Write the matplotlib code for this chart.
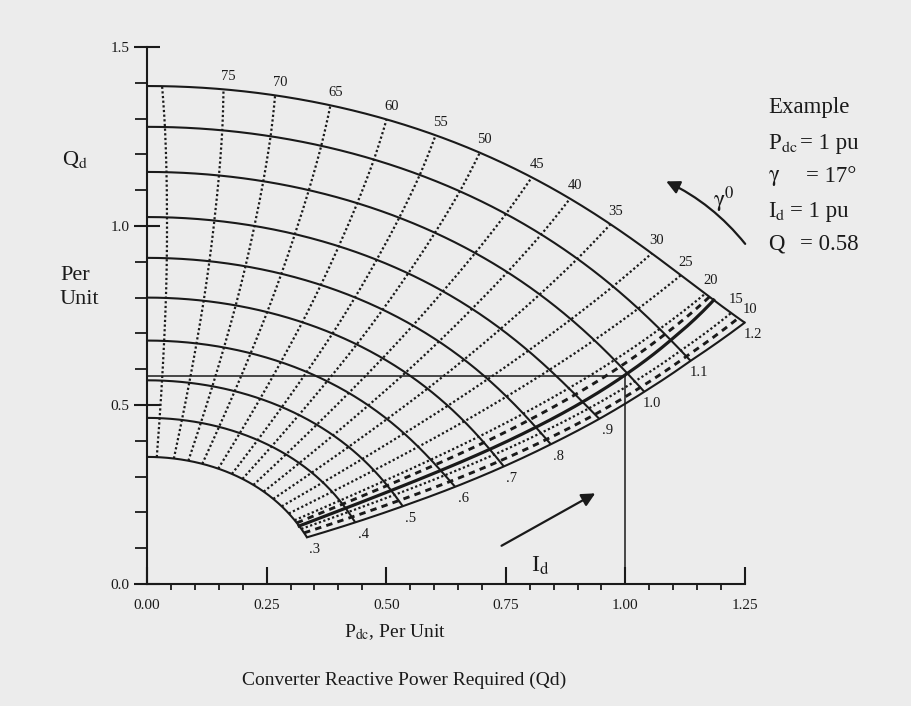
import numpy as np
import matplotlib.pyplot as plt
from matplotlib.patches import FancyArrowPatch

plt.rcParams['font.family'] = ['Liberation Serif', 'DejaVu Serif']
plt.rcParams['mathtext.fontset'] = 'stix'

# Id arcs (pu): radius where each arc meets the Qd axis, and radius at its gamma=10 end
id_vals = [0.3, 0.4, 0.5, 0.6, 0.7, 0.8, 0.9, 1.0, 1.1, 1.2]
id_labels = ['.3', '.4', '.5', '.6', '.7', '.8', '.9', '1.0', '1.1', '1.2']
r_axis = [0.355, 0.464, 0.569, 0.680, 0.800, 0.911, 1.025, 1.151, 1.277, 1.391]
r_end = [0.359, 0.468, 0.577, 0.699, 0.815, 0.930, 1.052, 1.170, 1.296, 1.447]

# gamma lines: polar angle (deg) where each one meets the Id=.3 arc and the Id=1.2 arc
gamma_vals = [80, 75, 70, 65, 60, 55, 50, 45, 40, 35, 30, 25, 20, 18.5, 17, 15, 12.5, 10]
gamma_labels = ['', '75', '70', '65', '60', '55', '50', '45', '40', '35', '30', '25',
                '20', '', '', '15', '', '10']
theta_in = [86.7, 80.9, 75.9, 71.0, 65.2, 60.0, 55.8, 51.2, 46.6, 42.0, 37.6, 33.6,
            30.0, 28.6, 27.0, 25.5, 23.5, 21.3]
theta_out = [88.7, 83.4, 78.9, 74.0, 68.9, 64.3, 60.0, 54.7, 50.6, 46.05, 41.2, 37.7,
             34.8, 34.3, 33.8, 31.8, 31.0, 30.3]
# how late each gamma line turns (curve shape between its two ends)
bend = [1.8, 1.8, 1.8, 1.8, 1.8, 1.8, 1.8, 1.8, 1.8, 1.8, 1.9, 2.0,
        2.4, 2.6, 2.8, 2.3, 2.0, 1.6]

# worked example
p_ex = 1.0
q_ex = 0.58

NB = len(gamma_vals) - 1  # lower boundary line (gamma = 10)


def line_angle(k, idv):
    s = (np.asarray(idv) - id_vals[0]) / (id_vals[-1] - id_vals[0])
    return theta_in[k] + (theta_out[k] - theta_in[k]) * s ** bend[k]


def radius(idv, th):
    r0 = np.interp(idv, id_vals, r_axis)
    r1 = np.interp(idv, id_vals, r_end)
    th_end = line_angle(NB, idv)
    return r0 + (r1 - r0) * ((90 - th) / (90 - th_end)) ** 8


def to_xy(r, th):
    t = np.radians(th)
    return r * np.cos(t), r * np.sin(t)


fig = plt.figure(figsize=(9.12, 7.06), dpi=100)
fig.patch.set_facecolor('#ececec')
ax = fig.add_axes([147 / 912, 122 / 706, 598 / 912, 537 / 706])
ax.set_facecolor('none')
ink = '#1a1a1a'

# Id arcs
for idv in id_vals:
    th = np.linspace(90, float(line_angle(NB, idv)), 300)
    x, y = to_xy(radius(idv, th), th)
    ax.plot(x, y, color=ink, lw=1.5, solid_capstyle='butt', clip_on=False)

# gamma lines
special = {
    18.5: dict(ls=(0, (2.2, 1.8)), lw=2.1),
    17: dict(ls='-', lw=2.3),
    12.5: dict(ls=(0, (2.2, 1.8)), lw=2.1),
    10: dict(ls='-', lw=1.5),
}
ids = np.linspace(id_vals[0], id_vals[-1], 200)
for k, g in enumerate(gamma_vals):
    th = line_angle(k, ids)
    x, y = to_xy(radius(ids, th), th)
    st = special.get(g, dict(ls=(0, (1, 1.1)), lw=1.6))
    ax.plot(x, y, color=ink, clip_on=False, **st)
    if gamma_labels[k]:
        ax.annotate(gamma_labels[k], (x[-1], y[-1]), xytext=(5, 13),
                    textcoords='offset pixels', ha='center', va='center',
                    fontsize=10.5, color=ink, annotation_clip=False)

# Id labels at the gamma = 10 end of each arc
for idv, lab in zip(id_vals, id_labels):
    th = float(line_angle(NB, idv))
    x, y = to_xy(radius(idv, th), th)
    ax.annotate(lab, (x, y), xytext=(8, -12), textcoords='offset pixels',
                ha='center', va='center', fontsize=10.5, color=ink,
                annotation_clip=False)

# example lines
ax.plot([0, p_ex], [q_ex, q_ex], color=ink, lw=1.1)
ax.plot([p_ex, p_ex], [0, q_ex], color=ink, lw=1.1)

# arrows
ax.add_patch(FancyArrowPatch((0.736, 0.103), (0.942, 0.257), arrowstyle='-|>',
                             mutation_scale=20, lw=1.6, color=ink, clip_on=False))
ax.add_patch(FancyArrowPatch((1.254, 0.944), (1.080, 1.128), arrowstyle='-|>',
                             connectionstyle='arc3,rad=0.12', mutation_scale=20,
                             lw=1.6, color=ink, clip_on=False))
ax.text(1.206, 1.073, r'$\mathrm{\gamma}^0$', fontsize=17, color=ink, ha='center', va='center')
ax.text(0.822, 0.05, r'I$_\mathrm{d}$', fontsize=17, color=ink, ha='center', va='center')

# axes
ax.set_xlim(0, 1.25)
ax.set_ylim(0, 1.5)
for s in ['top', 'right']:
    ax.spines[s].set_visible(False)
for s in ['left', 'bottom']:
    ax.spines[s].set_linewidth(1.5)
    ax.spines[s].set_color(ink)
ax.set_xticks([0, 0.25, 0.5, 0.75, 1.0, 1.25])
ax.set_xticklabels(['0.00', '0.25', '0.50', '0.75', '1.00', '1.25'])
ax.set_xticks(np.arange(0, 1.251, 0.05), minor=True)
ax.set_yticks([0, 0.5, 1.0, 1.5])
ax.set_yticklabels(['0.0', '0.5', '1.0', '1.5'])
ax.set_yticks(np.arange(0, 1.51, 0.1), minor=True)
ax.tick_params(axis='x', which='major', direction='in', length=12, width=1.5,
               pad=11, labelsize=11, colors=ink)
ax.tick_params(axis='x', which='minor', direction='out', length=4.5, width=1.3, colors=ink)
ax.tick_params(axis='y', which='major', direction='inout', length=19, width=1.5,
               pad=3, labelsize=11, colors=ink)
ax.tick_params(axis='y', which='minor', direction='out', length=9, width=1.3, colors=ink)

# outside texts
fig.text(62 / 912, 1 - 160 / 706, r'Q$_\mathrm{d}$', fontsize=16, color=ink, va='center')
fig.text(60 / 912, 1 - 276 / 706, 'Per', fontsize=16, color=ink, va='center')
fig.text(60 / 912, 1 - 300 / 706, 'Unit', fontsize=16, color=ink, va='center')

ex_rows = [(108, 'Example', None, None),
           (143, r'P$_\mathrm{dc}$', 800, '= 1 pu'),
           (177, r'$\mathrm{\gamma}$', 806, '= 17°'),
           (211, r'I$_\mathrm{d}$', 790, '= 1 pu'),
           (244, 'Q', 800, '= 0.58')]
for py, left, px2, right in ex_rows:
    fig.text(768 / 912, 1 - py / 706, left, fontsize=16.5, color=ink, va='center')
    if right:
        fig.text(px2 / 912, 1 - py / 706, right, fontsize=16.5, color=ink, va='center')

fig.text(395 / 912, 1 - 632 / 706, r'P$_\mathrm{dc}$, Per Unit', fontsize=14,
         color=ink, ha='center', va='center')
fig.text(404 / 912, 1 - 680 / 706, 'Converter Reactive Power Required (Qd)',
         fontsize=14, color=ink, ha='center', va='center')

fig.savefig('out.png', dpi=100, facecolor=fig.get_facecolor())
